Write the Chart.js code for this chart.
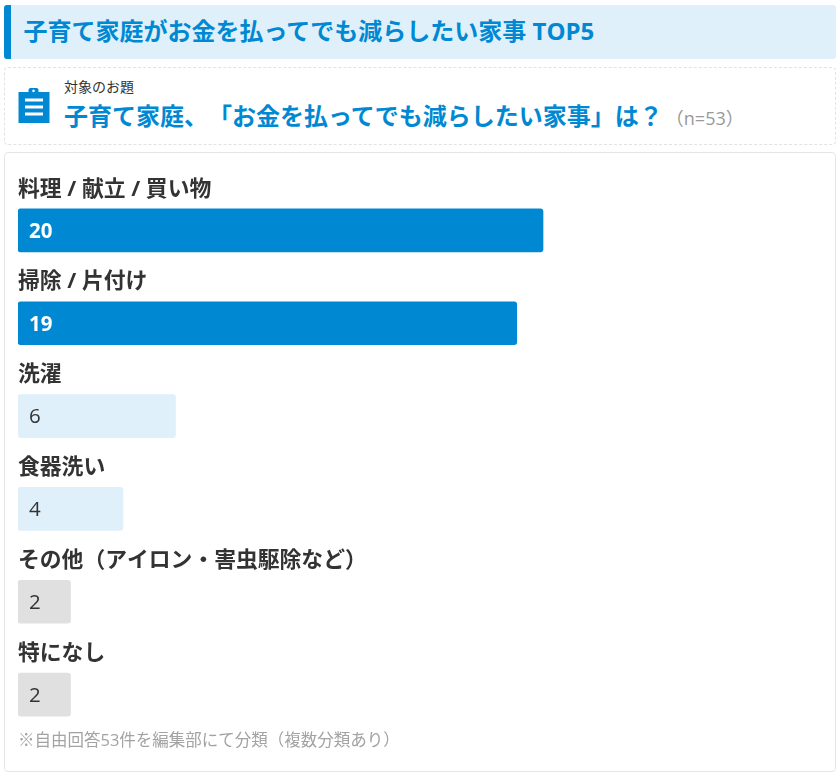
<!DOCTYPE html>
<html lang="ja">
<head>
<meta charset="utf-8">
<title>子育て家庭がお金を払ってでも減らしたい家事 TOP5</title>
<script src="https://cdn.jsdelivr.net/npm/chart.js@4/dist/chart.umd.min.js"></script>
<style>
  html, body { margin: 0; padding: 0; background: #fff; }
  body { width: 840px; height: 775px; position: relative; overflow: hidden; text-spacing-trim: space-all;
         font-family: "Open Sans", "Noto Sans CJK JP", sans-serif; }
  .title { position: absolute; left: 4px; top: 5px; width: 832px; height: 54px; box-sizing: border-box;
           background: #dff0fa; border-left: 7px solid #0089d2; border-radius: 3px;
           color: #0089d2; font-size: 24px; font-weight: 700; line-height: 52px; padding-left: 12.5px; white-space: nowrap; }
  .topic { position: absolute; left: 4px; top: 67px; width: 832px; height: 78px; box-sizing: border-box;
           border: 1.5px dashed #e2e2e2; border-radius: 4px; }
  .topic svg { position: absolute; left: 12.5px; top: 19.5px; }
  .topic .small { position: absolute; left: 59px; top: 8.5px; font-size: 14px; color: #333; line-height: 20px; white-space: nowrap; }
  .topic .big { position: absolute; left: 59px; top: 30px; font-size: 24px; font-weight: 700; color: #0089d2; line-height: 36px; white-space: nowrap; }
  .topic .n { font-size: 18px; font-weight: 400; color: #999; margin-left: 3px; }
  .panel { position: absolute; left: 4px; top: 152px; width: 832px; height: 620px; box-sizing: border-box;
           border: 1px solid #e6e6e6; border-radius: 4px; }
  canvas { position: absolute; left: 0; top: 0; }
  .note { position: absolute; left: 18px; top: 728.5px; font-size: 16.5px; color: #a3a3a3; line-height: 22px; white-space: nowrap; }
</style>
</head>
<body>
<div class="title">子育て家庭がお金を払ってでも減らしたい家事 TOP5</div>
<div class="topic">
  <svg width="33" height="36" viewBox="0 0 33 36">
    <path fill="#0089d2" fill-rule="evenodd" d="M0.5 4h10V1.5a2 2 0 0 1 2-1.5h6a2 2 0 0 1 2 1.5V4h11v31H0.5z M15.5 1.6a1.3 1.3 0 1 0 .01 0z M7 10.5v3h18v-3z M7 17.5v3h18v-3z M7 24.5v3h18v-3z"/>
  </svg>
  <div class="small">対象のお題</div>
  <div class="big">子育て家庭、「お金を払ってでも減らしたい家事」は？<span class="n">（n=53）</span></div>
</div>
<div class="panel"></div>
<canvas id="chart" width="840" height="775"></canvas>
<div class="note">※自由回答53件を編集部にて分類（複数分類あり）</div>

<script>
const categories = ["料理 / 献立 / 買い物", "掃除 / 片付け", "洗濯", "食器洗い", "その他（アイロン・害虫駆除など）", "特になし"];
const counts = [20, 19, 6, 4, 2, 2];
const barColors = ["#0089d2", "#0089d2", "#dff0fa", "#dff0fa", "#e0e0e0", "#e0e0e0"];
const valueColors = ["#ffffff", "#ffffff", "#333333", "#333333", "#333333", "#333333"];

// category name above each bar, count inside it
const barLabels = {
    id: "barLabels",
    afterDatasetsDraw(chart) {
        const ctx = chart.ctx;
        const meta = chart.getDatasetMeta(0);
        ctx.save();
        ctx.textBaseline = "middle";
        ctx.textAlign = "left";
        meta.data.forEach(function (bar, i) {
            const left = chart.scales.x.getPixelForValue(0);
            ctx.fillStyle = "#333333";
            ctx.font = '700 21.8px "Open Sans", "Noto Sans CJK JP", sans-serif';
            ctx.fillText(categories[i], left, bar.y - 41);
            ctx.fillStyle = valueColors[i];
            ctx.font = (counts[i] > 10 ? "700" : "400") + ' 20.5px "Open Sans", "Noto Sans CJK JP", sans-serif';
            ctx.fillText(String(counts[i]), left + 11, bar.y + 1.5);
        });
        ctx.restore();
    }
};

new Chart(document.getElementById("chart").getContext("2d"), {
    type: "bar",
    data: {
        labels: categories,
        datasets: [{
            data: counts,
            backgroundColor: barColors,
            borderRadius: 3,
            borderSkipped: false,
            barThickness: 43
        }]
    },
    plugins: [barLabels],
    options: {
        indexAxis: "y",
        responsive: false,
        animation: false,
        layout: { padding: { left: 18, right: 34.5, top: 184, bottom: 34 } },
        plugins: { legend: { display: false }, tooltip: { enabled: false } },
        scales: {
            x: { display: false, min: 0, max: 30 },
            y: { display: false }
        }
    }
});
</script>
</body>
</html>
